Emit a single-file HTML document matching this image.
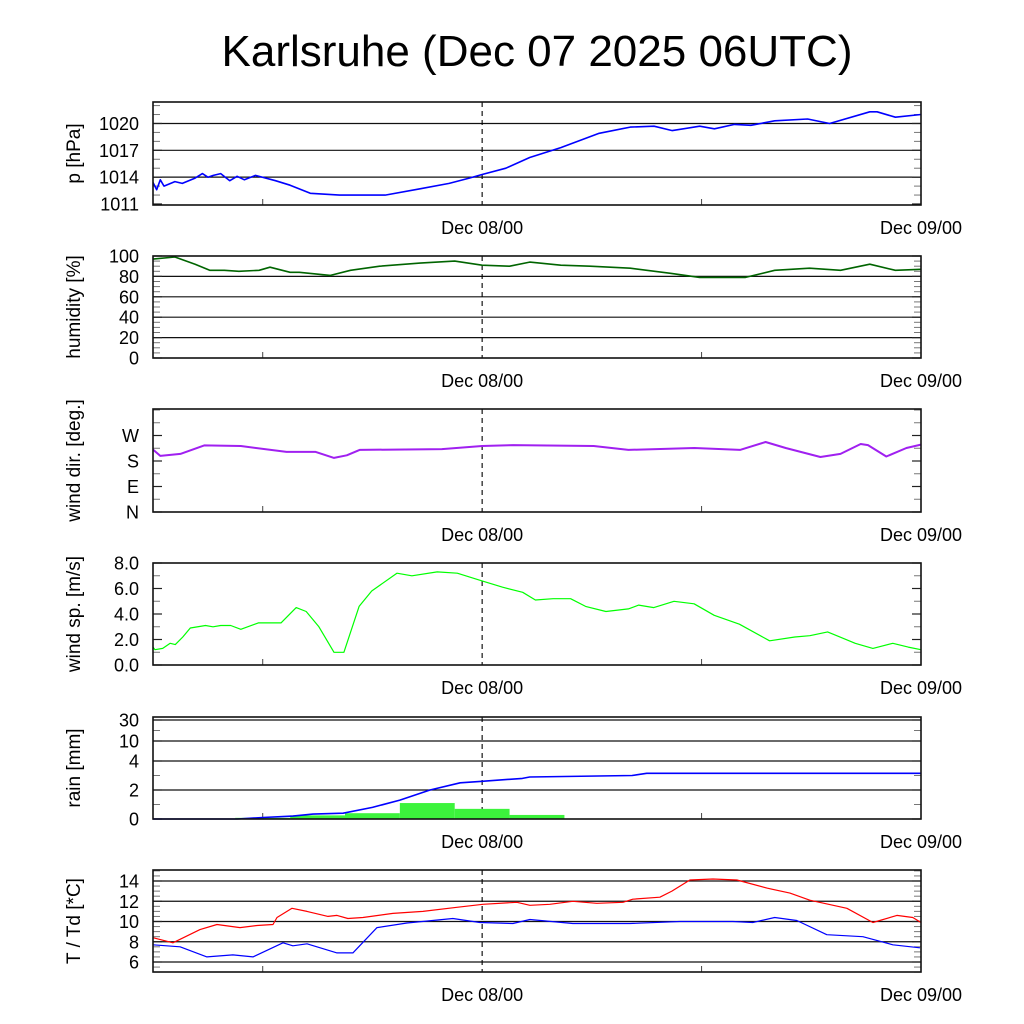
<!DOCTYPE html>
<html><head><meta charset="utf-8"><style>
html,body{margin:0;padding:0;background:#fff;}
svg{display:block;font-family:"Liberation Sans",sans-serif;}
</style></head><body>
<svg id="chart" width="1024" height="1024" viewBox="0 0 1024 1024">
<rect x="0" y="0" width="1024" height="1024" fill="#fff"/>
<text x="537" y="66" font-size="44" text-anchor="middle">Karlsruhe (Dec 07 2025 06UTC)</text>
</svg>
<script>
// time axis: hours since Dec 07 06UTC, 0..42
const presT=[0,0.2,0.4,0.6,1.2,1.6,2.3,2.7,3.0,3.3,3.7,4.2,4.6,5.0,5.6,6.7,7.5,8.6,10.2,12.7,14.6,16.2,17.3,18,19.3,20.6,22.3,24.4,26.1,27.4,28.4,29.9,30.7,31.8,32.7,34.0,35.8,37.0,39.2,39.6,40.6,42];
const presV=[1013.4,1012.6,1013.7,1013.0,1013.5,1013.3,1013.9,1014.4,1014.0,1014.2,1014.4,1013.6,1014.1,1013.7,1014.2,1013.6,1013.1,1012.2,1012.0,1012.0,1012.7,1013.3,1013.9,1014.3,1015.0,1016.2,1017.3,1018.9,1019.6,1019.7,1019.2,1019.7,1019.4,1019.9,1019.8,1020.3,1020.5,1020.0,1021.3,1021.3,1020.7,1021.0];
const humT=[0,1.2,2.3,3.1,3.9,4.7,5.8,6.4,7.5,8.0,9.7,10.8,12.4,14.6,16.5,18,19.5,20.6,22.3,23.9,26.1,28.3,29.9,32.4,34.0,35.9,37.6,39.2,40.6,42];
const humV=[97,99,92,86,86,85,86,89,84,84,81,86,90,93,95,91,90,94,91,90,88,83,79,79,86,88,86,92,86,87];
const dirT=[0,0.1,0.4,1.5,2.8,4.8,7.3,8.9,9.9,10.6,11.3,15.8,18,19.7,24.1,26,29.6,32.1,33.5,34.6,36.5,37.6,38.7,39.1,40.1,41.2,42];
const dirV=[220,215,198,205,235,233,212,212,191,200,219,222,233,236,233,219,226,219,247,226,194,205,240,236,196,226,238];
const spdT=[0,0.11,0.53,0.94,1.22,1.63,2.04,2.87,3.28,3.70,4.25,4.80,5.76,7.0,7.83,8.38,9.07,9.9,10.44,11.27,11.96,13.34,14.16,15.54,16.64,18.0,19.12,20.22,20.91,21.88,22.84,23.66,24.77,26.0,26.56,27.39,28.49,29.59,30.69,32.07,33.72,35.1,35.92,36.89,38.4,39.37,40.46,41.3,42];
const spdV=[1.4,1.2,1.3,1.7,1.6,2.2,2.9,3.1,3.0,3.1,3.1,2.8,3.3,3.3,4.5,4.2,3.0,1.0,1.0,4.6,5.8,7.2,7.0,7.3,7.2,6.6,6.1,5.7,5.1,5.2,5.2,4.6,4.2,4.4,4.7,4.5,5.0,4.8,3.9,3.2,1.9,2.2,2.3,2.6,1.7,1.3,1.7,1.4,1.2];
const rainBinStart=[4.5,7.5,10.5,13.5,16.5,19.5,22.5,25.5];
const rainBinV=[0.08,0.25,0.4,1.1,0.7,0.28,0.03,0.03];
const rainCumT=[0,4.6,6.0,7.65,8.75,10.4,12.0,13.5,15.15,16.8,18.0,20.2,20.6,26.2,27.0,42];
const rainCumV=[0,0,0.1,0.2,0.34,0.4,0.8,1.3,2.0,2.5,2.6,2.8,2.9,3.0,3.15,3.15];
const tT=[0,1.09,2.57,3.5,4.76,5.69,6.56,6.78,7.6,8.42,9.57,10.06,10.66,11.48,13.12,14.76,16.62,18.04,19.9,20.61,21.7,22.96,24.27,25.7,26.24,27.72,28.38,29.36,30.62,31.93,33.57,34.83,35.92,37.95,39.37,40.68,41.55,42];
const tV=[8.4,7.9,9.2,9.7,9.4,9.6,9.7,10.4,11.3,11.0,10.5,10.6,10.3,10.4,10.8,11.0,11.4,11.7,11.9,11.6,11.7,12.0,11.8,11.9,12.2,12.4,13.0,14.1,14.2,14.1,13.3,12.8,12.1,11.3,9.9,10.6,10.4,9.9];
const tdT=[0,1.48,2.95,4.37,5.47,7.11,7.65,8.42,10.06,10.93,12.25,13.89,16.4,17.88,19.68,20.61,22.96,26.08,28.81,31.71,32.8,34.0,35.21,36.85,38.82,40.46,41.94];
const tdV=[7.7,7.5,6.5,6.7,6.5,7.9,7.6,7.8,6.9,6.9,9.4,9.85,10.3,9.9,9.8,10.2,9.8,9.8,10.0,10.0,9.9,10.4,10.1,8.7,8.5,7.7,7.4];
const dateLabels=["Dec 08/00","Dec 09/00"];
const dateHours=[18,42];
const minorXHours=[6,30];

const NS="http://www.w3.org/2000/svg";
const svg=document.getElementById('chart');
const X0=153,X1=921,H=42;
const xs=h=>X0+(X1-X0)*h/H;
function el(tag,attrs,parent){const e=document.createElementNS(NS,tag);for(const k in attrs)e.setAttribute(k,attrs[k]);(parent||svg).appendChild(e);return e;}
function lin(d0,d1,r0,r1){return v=>r0+(v-d0)*(r1-r0)/(d1-d0);}
function pw(dom,rng){return v=>{for(let i=0;i<dom.length-1;i++){if(v<=dom[i+1]||i==dom.length-2){return rng[i]+(v-dom[i])*(rng[i+1]-rng[i])/(dom[i+1]-dom[i]);}}};}

function panel(name,top,bot,ys,major,labels,minor,grid,title){
  const g=el('g',{});
  
  
  if(grid){major.forEach(v=>{const y=ys(v);if(y>top+1&&y<bot-1){const l=el('line',{x1:X0,x2:X1,y1:y,y2:y,stroke:'#111','stroke-width':1.2},g);}});}
  minor.forEach(v=>{const y=ys(v);el('line',{x1:X0,x2:X0+7,y1:y,y2:y,stroke:'#777','stroke-width':1},g);el('line',{x1:X1-7,x2:X1,y1:y,y2:y,stroke:'#777','stroke-width':1},g);});
  major.forEach(v=>{const y=ys(v);el('line',{x1:X0,x2:X0+9,y1:y,y2:y,stroke:'#222','stroke-width':1.2},g);el('line',{x1:X1-9,x2:X1,y1:y,y2:y,stroke:'#222','stroke-width':1.2},g);});
  labels.forEach((t,i)=>{const tx=el('text',{x:139,y:ys(major[i])+6.5,'font-size':18,'text-anchor':'end'},g);tx.textContent=t;});
  minorXHours.forEach(h=>{el('line',{x1:xs(h),x2:xs(h),y1:bot-6,y2:bot,stroke:'#444','stroke-width':1},g);});
  const dl=el('line',{x1:xs(18),x2:xs(18),y1:top,y2:bot,stroke:'#000','stroke-width':1.1,'stroke-dasharray':'5,4'},g);
  
  const yt=el('text',{x:0,y:0,'font-size':19,'text-anchor':'middle',transform:`translate(80,${(top+bot)/2}) rotate(-90)`},g);
  yt.textContent=title;
  dateLabels.forEach((t,i)=>{const tx=el('text',{x:xs(dateHours[i]),y:bot+29,'font-size':18,'text-anchor':'middle'},g);tx.textContent=t;});
  return g;
}
function frame(name,top,bot){const r=el('rect',{x:X0,y:top,width:X1-X0,height:bot-top,fill:'none',stroke:'#111','stroke-width':1.6});}
function line(name,T,V,ys,color,w){const d=T.map((t,i)=>(i?'L':'M')+xs(t).toFixed(1)+','+ys(V[i]).toFixed(1)).join('');const p=el('path',{d:d,fill:'none',stroke:color,'stroke-width':w,'stroke-linejoin':'round'});}
function range(a,b,s){const r=[];for(let v=a;v<=b+1e-9;v+=s)r.push(+v.toFixed(3));return r;}

// pressure
let ys=lin(1011,1022.4,204,102);
panel('pressure',102,205,ys,[1011,1014,1017,1020],['1011','1014','1017','1020'],range(1011,1022,1),true,'p [hPa]');
line('pressure-line',presT,presV,ys,'#0000ff',1.6);frame('pressure',102,205);
// humidity
ys=lin(0,100,358,256);
panel('humidity',256,358,ys,[0,20,40,60,80,100],['0','20','40','60','80','100'],range(0,100,5),true,'humidity [%]');
line('humidity-line',humT,humV,ys,'#006400',1.6);frame('humidity',256,358);
// wind direction
ys=lin(0,360,512,410);
panel('wind-direction',409,512,ys,[0,90,180,270],['N','E','S','W'],range(0,360,45),false,'wind dir. [deg.]');
line('wind-direction-line',dirT,dirV,ys,'#a020f0',2);frame('wind-direction',409,512);
// wind speed
ys=lin(0,8,665,563);
panel('wind-speed',563,665,ys,[0,2,4,6,8],['0.0','2.0','4.0','6.0','8.0'],range(0,8,1),false,'wind sp. [m/s]');
line('wind-speed-line',spdT,spdV,ys,'#00ff00',1.2);frame('wind-speed',563,665);
// rain
ys=pw([0,2,4,10,30,40],[819,790,761,741,720,717]);
panel('rain',717,819,ys,[0,2,4,10,30],['0','2','4','10','30'],[1,3,20],true,'rain [mm]');
rainBinStart.forEach((s,i)=>{const b=el('rect',{x:xs(s),y:ys(rainBinV[i]),width:xs(s+3)-xs(s),height:819-ys(rainBinV[i]),fill:'#3cf43c'});});
line('rain-cumulative-line',rainCumT,rainCumV,ys,'#0000ff',1.6);frame('rain',717,819);
// temperature
ys=lin(6,14,962,881);
panel('temperature',870,972,ys,[6,8,10,12,14],['6','8','10','12','14'],range(5,15,0.5),true,'T / Td [*C]');
line('temperature-line',tT,tV,ys,'#ff0000',1.2);
line('dewpoint-line',tdT,tdV,ys,'#0000ff',1.2);frame('temperature',870,972);
</script>
</body></html>
